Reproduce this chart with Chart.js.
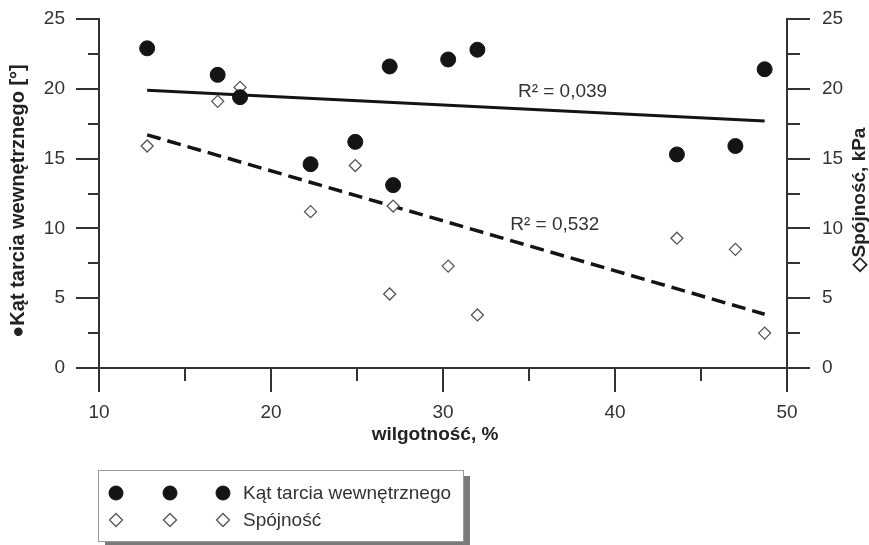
<!DOCTYPE html>
<html>
<head>
<meta charset="utf-8">
<script src="https://cdn.jsdelivr.net/npm/chart.js@4.4.1/dist/chart.umd.min.js"></script>
<style>
  html, body { margin: 0; padding: 0; background: #fff; }
  #wrap { width: 869px; height: 545px; }
</style>
</head>
<body>
<div id="wrap"><canvas id="chart" width="869" height="545"></canvas></div>
<script>
// moisture of each sample, %
const moisture = [12.8, 16.9, 18.2, 22.3, 24.9, 26.9, 27.1, 30.3, 32.0, 43.6, 47.0, 48.7];
// angle of internal friction, deg
const friction = [22.9, 21.0, 19.4, 14.6, 16.2, 21.6, 13.1, 22.1, 22.8, 15.3, 15.9, 21.4];
// cohesion, kPa
const cohesion = [15.9, 19.1, 20.1, 11.2, 14.5, 5.3, 11.6, 7.3, 3.8, 9.3, 8.5, 2.5];

// trend lines (end points)
const trendX = [12.8, 48.7];
const frictionTrend = [19.9, 17.7];
const cohesionTrend = [16.7, 3.85];

// R² labels, placed in data units
const r2Text = ['R\u00B2 = 0,039', 'R\u00B2 = 0,532'];
const r2X = [36.95, 36.5];
const r2Y = [19.8, 10.25];

// ticks
const xMajor = [10, 20, 30, 40, 50];
const xMinor = [15, 25, 35, 45];
const yMajor = [0, 5, 10, 15, 20, 25];
const yMinor = [2.5, 7.5, 12.5, 17.5, 22.5];

const FONT = '"Liberation Sans", Arial, sans-serif';
Chart.defaults.font.family = FONT;
Chart.defaults.font.size = 19;
Chart.defaults.color = '#333';

function pts(xs, ys) {
    return xs.map((v, i) => ({ x: v, y: ys[i] }));
}

const frictionStyle = { pointStyle: 'circle', radius: 7.5, fill: '#141414', stroke: '#141414', borderWidth: 1 };
const cohesionStyle = { pointStyle: 'rectRot', radius: 6, fill: '#ffffff', stroke: '#555', borderWidth: 1.3 };

// minor / major ticks, titles, R² labels and the boxed legend
const decorations = {
    id: 'decorations',
    afterDraw(chart) {
        const { ctx, chartArea: a, scales: { x, y, y2 } } = chart;
        ctx.save();
        ctx.strokeStyle = '#333';
        ctx.lineWidth = 2;
        const seg = (x1, y1, x2, y2_) => { ctx.beginPath(); ctx.moveTo(x1, y1); ctx.lineTo(x2, y2_); ctx.stroke(); };

        xMajor.forEach(v => { const p = Math.round(x.getPixelForValue(v)); seg(p, a.bottom, p, a.bottom + 24); });
        xMinor.forEach(v => { const p = Math.round(x.getPixelForValue(v)); seg(p, a.bottom, p, a.bottom + 13); });
        yMajor.forEach(v => { const p = Math.round(y.getPixelForValue(v)); seg(a.left, p, a.left - 23, p); });
        yMinor.forEach(v => { const p = Math.round(y.getPixelForValue(v)); seg(a.left, p, a.left - 11, p); });
        yMajor.forEach(v => { const p = Math.round(y2.getPixelForValue(v)); seg(a.right, p, a.right + 23, p); });
        yMinor.forEach(v => { const p = Math.round(y2.getPixelForValue(v)); seg(a.right, p, a.right + 13, p); });

        // R² labels
        ctx.fillStyle = '#333';
        ctx.font = '19px ' + FONT;
        ctx.textAlign = 'center';
        ctx.textBaseline = 'middle';
        r2Text.forEach((t, i) => {
            ctx.fillText(t, x.getPixelForValue(r2X[i]), y.getPixelForValue(r2Y[i]));
        });

        // axis titles
        ctx.font = 'bold 19px ' + FONT;
        ctx.fillStyle = '#222';
        ctx.fillText('wilgotność, %', 435, 435);

        ctx.save();
        ctx.font = 'bold 20px ' + FONT;
        ctx.translate(18, 201);
        ctx.rotate(-Math.PI / 2);
        ctx.fillText('\u25CFKąt tarcia wewnętrznego [°]', 0, 0);
        ctx.restore();

        ctx.save();
        ctx.translate(860, 200);
        ctx.rotate(-Math.PI / 2);
        ctx.fillText('\u25C7Spójność, kPa', 0, 0);
        ctx.restore();

        // legend box with shadow
        ctx.fillStyle = '#7a7a7a';
        ctx.fillRect(105, 476, 365, 72);
        ctx.fillStyle = '#fff';
        ctx.fillRect(98, 470, 365, 71);
        ctx.strokeStyle = '#999';
        ctx.lineWidth = 1;
        ctx.strokeRect(98.5, 470.5, 365, 71);

        const rows = [
            { style: frictionStyle, label: 'Kąt tarcia wewnętrznego', yy: 493 },
            { style: cohesionStyle, label: 'Spójność', yy: 520 }
        ];
        rows.forEach(r => {
            [116, 170, 223].forEach(px => {
                ctx.fillStyle = r.style.fill;
                ctx.strokeStyle = r.style.stroke;
                ctx.lineWidth = r.style.borderWidth;
                Chart.helpers.drawPoint(ctx, {
                    pointStyle: r.style.pointStyle,
                    radius: r.style.pointStyle === 'circle' ? 7 : 6.5,
                    rotation: 0,
                    borderWidth: r.style.borderWidth
                }, px, r.yy);
            });
            ctx.fillStyle = '#333';
            ctx.font = '19px ' + FONT;
            ctx.textAlign = 'left';
            ctx.fillText(r.label, 243, r.yy + 1);
        });
        ctx.restore();
    }
};

const ctx = document.getElementById('chart').getContext('2d');
const chart = new Chart(ctx, {
    type: 'scatter',
    data: {
        datasets: [
            {
                label: 'Kąt tarcia wewnętrznego',
                data: pts(moisture, friction),
                yAxisID: 'y',
                pointStyle: frictionStyle.pointStyle,
                pointRadius: frictionStyle.radius,
                backgroundColor: frictionStyle.fill,
                borderColor: frictionStyle.stroke,
                borderWidth: frictionStyle.borderWidth
            },
            {
                label: 'Spójność',
                data: pts(moisture, cohesion),
                yAxisID: 'y2',
                pointStyle: cohesionStyle.pointStyle,
                pointRadius: cohesionStyle.radius,
                backgroundColor: cohesionStyle.fill,
                borderColor: cohesionStyle.stroke,
                borderWidth: cohesionStyle.borderWidth
            },
            {
                type: 'line',
                label: 'trend kąt',
                data: pts(trendX, frictionTrend),
                yAxisID: 'y',
                borderColor: '#141414',
                borderWidth: 3,
                pointRadius: 0,
                fill: false
            },
            {
                type: 'line',
                label: 'trend spójność',
                data: pts(trendX, cohesionTrend),
                yAxisID: 'y2',
                borderColor: '#141414',
                borderWidth: 3.5,
                borderDash: [14, 7],
                pointRadius: 0,
                fill: false
            }
        ]
    },
    options: {
        responsive: false,
        animation: false,
        layout: { padding: { top: 19, left: 0, right: 0, bottom: 0 } },
        plugins: {
            legend: { display: false },
            tooltip: { enabled: false }
        },
        scales: {
            x: {
                type: 'linear',
                position: 'bottom',
                min: 10,
                max: 50,
                afterFit: s => { s.height = 177; },
                afterBuildTicks: s => { s.ticks = xMajor.map(v => ({ value: v })); },
                ticks: { padding: 0, color: '#333' },
                grid: { display: false, drawTicks: true, tickLength: 33 },
                border: { display: true, color: '#333', width: 2 }
            },
            y: {
                position: 'left',
                min: 0,
                max: 25,
                afterFit: s => { s.width = 99; },
                afterBuildTicks: s => { s.ticks = yMajor.map(v => ({ value: v })); },
                ticks: { padding: 0, color: '#333' },
                grid: { display: false, drawTicks: true, tickLength: 34 },
                border: { display: true, color: '#333', width: 2 }
            },
            y2: {
                position: 'right',
                min: 0,
                max: 25,
                afterFit: s => { s.width = 82; },
                afterBuildTicks: s => { s.ticks = yMajor.map(v => ({ value: v })); },
                ticks: { padding: 0, color: '#333' },
                grid: { display: false, drawTicks: true, tickLength: 35 },
                border: { display: true, color: '#333', width: 2 }
            }
        }
    },
    plugins: [decorations]
});
</script>
</body>
</html>
